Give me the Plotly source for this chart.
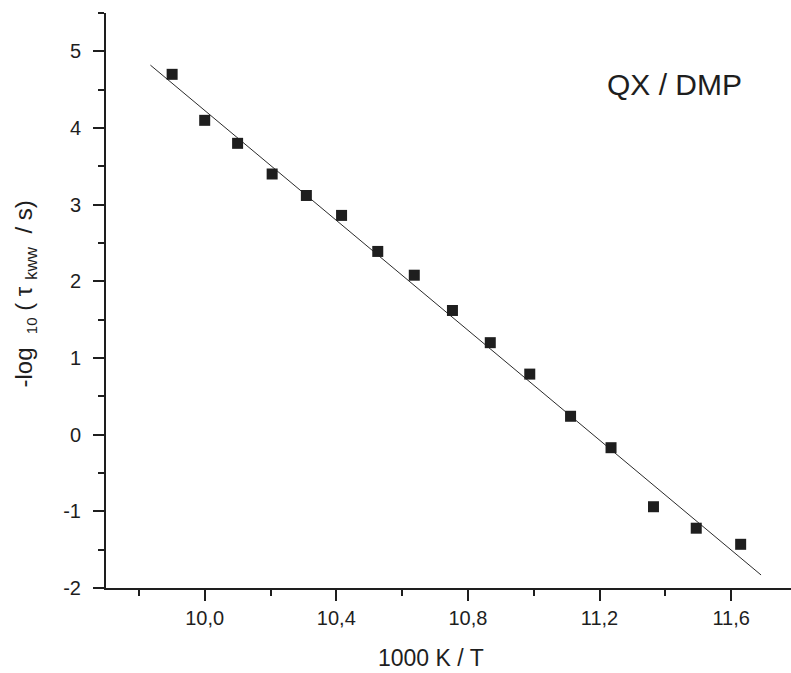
import plotly.graph_objects as go

# Measured relaxation times: inverse temperature vs -log10(tau_KWW / s)
inv_temp = [9.901, 10.000, 10.100, 10.205, 10.309, 10.416, 10.526, 10.637,
            10.753, 10.868, 10.988, 11.112, 11.235, 11.364, 11.494, 11.629]
neg_log_tau = [4.70, 4.10, 3.80, 3.40, 3.12, 2.86, 2.39, 2.08,
               1.62, 1.20, 0.79, 0.24, -0.17, -0.94, -1.22, -1.43]

# Arrhenius fit line end points
fit_x = [9.835, 11.691]
fit_y = [4.82, -1.83]

x_ticks = [10.0, 10.4, 10.8, 11.2, 11.6]
x_tick_text = ["10,0", "10,4", "10,8", "11,2", "11,6"]
y_ticks = [-2, -1, 0, 1, 2, 3, 4, 5]
y_tick_text = ["-2", "-1", "0", "1", "2", "3", "4", "5"]

FONT = "Liberation Sans, Arial, sans-serif"
INK = "#1e1e1e"

fig = go.Figure()
fig.add_trace(go.Scatter(x=fit_x, y=fit_y, mode="lines",
                         line=dict(color="#2a2a2a", width=1), showlegend=False))
fig.add_trace(go.Scatter(x=inv_temp, y=neg_log_tau, mode="markers",
                         marker=dict(symbol="square", size=11, color=INK,
                                     line=dict(width=0)),
                         showlegend=False))

y_title = ("-log&nbsp;&nbsp;<sub><span style='font-size:15px'>10</span></sub>"
           "&nbsp;(&nbsp;τ&nbsp;<sub><span style='font-size:17px'>kww</span></sub>"
           "&nbsp;&nbsp;/ s)")

fig.update_layout(
    width=791, height=673,
    margin=dict(l=106, r=0, t=13, b=85),
    paper_bgcolor="white", plot_bgcolor="white",
    font=dict(family=FONT, color=INK, size=20),
    xaxis=dict(range=[9.7, 11.782], showgrid=False, zeroline=False,
               showline=True, linecolor=INK, linewidth=2,
               ticks="outside", ticklen=11, tickwidth=2, tickcolor=INK,
               tickvals=x_ticks, ticktext=x_tick_text,
               tickfont=dict(size=20), ticklabelstandoff=0,
               minor=dict(dtick=0.2, tick0=9.8, ticks="outside", ticklen=6,
                          tickwidth=2, tickcolor=INK, showgrid=False)),
    yaxis=dict(range=[-2, 5.5], showgrid=False, zeroline=False,
               showline=True, linecolor=INK, linewidth=2,
               ticks="outside", ticklen=11, tickwidth=2, tickcolor=INK,
               tickvals=y_ticks, ticktext=y_tick_text,
               tickfont=dict(size=20), ticklabelstandoff=8,
               minor=dict(dtick=0.5, tick0=0, ticks="outside", ticklen=6,
                          tickwidth=2, tickcolor=INK, showgrid=False)),
    annotations=[
        dict(text="QX / DMP", x=11.428, y=4.565, xref="x", yref="y",
             showarrow=False, font=dict(size=30, color=INK, family=FONT)),
        dict(text="1000 K / T", x=10.689, y=-0.121, xref="x", yref="paper",
             showarrow=False, yanchor="middle",
             font=dict(size=23, color=INK, family=FONT)),
        dict(text=y_title, x=-0.118, y=1.83,
             xref="paper", yref="y", showarrow=False, textangle=-90,
             xanchor="center", yanchor="middle",
             font=dict(size=24, color=INK, family=FONT)),
    ],
)

fig.write_html("out.html")
